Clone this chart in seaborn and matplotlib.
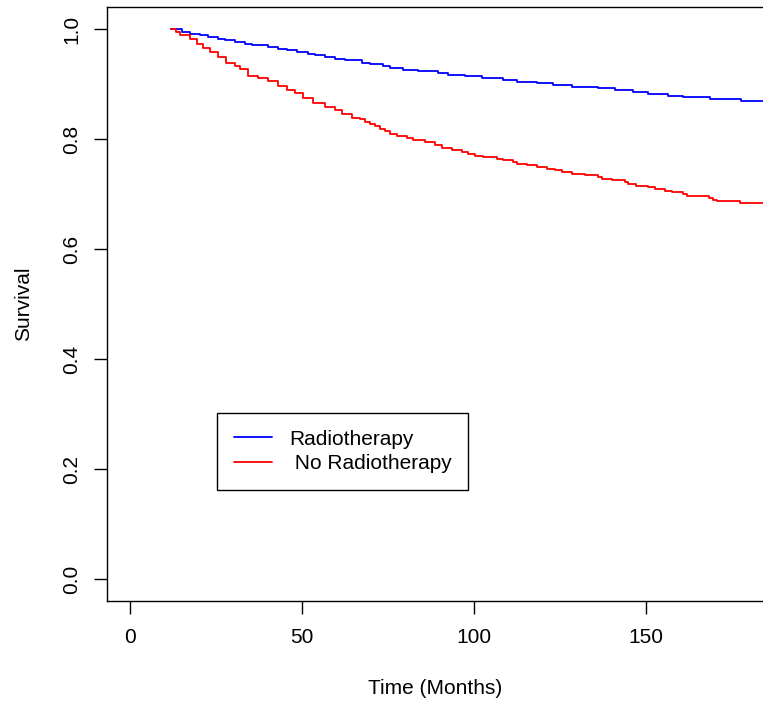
import seaborn as sns
import pandas as pd
import matplotlib
matplotlib.use("Agg")
import matplotlib.pyplot as plt

# Kaplan-Meier style step curves
radio_time = [12.0, 15.1, 17.4, 20.3, 22.7, 25.6, 27.6, 30.5, 33.4, 35.5, 40.1,
              43.0, 45.6, 48.5, 51.7, 53.8, 56.7, 59.6, 62.5, 67.4, 69.8, 73.5,
              75.6, 79.4, 83.7, 89.5, 92.4, 97.4, 102.3, 108.4, 112.5, 118.3,
              123.0, 128.5, 136.0, 141.0, 146.2, 150.6, 156.4, 160.8, 168.6,
              177.6, 190.0]
radio_surv = [1.000, 0.995, 0.991, 0.989, 0.985, 0.982, 0.980, 0.976, 0.973,
              0.971, 0.967, 0.964, 0.962, 0.958, 0.955, 0.953, 0.949, 0.946,
              0.943, 0.939, 0.936, 0.933, 0.930, 0.926, 0.923, 0.920, 0.917,
              0.914, 0.911, 0.907, 0.904, 0.901, 0.898, 0.895, 0.892, 0.889,
              0.885, 0.882, 0.879, 0.876, 0.873, 0.870, 0.870]

noradio_time = [12.0, 13.4, 14.5, 17.4, 19.5, 21.2, 23.3, 25.6, 27.9, 30.5, 32.0,
                34.3, 37.2, 40.1, 43.0, 45.6, 48.0, 50.3, 53.2, 56.7, 59.6, 61.6,
                64.5, 66.9, 68.3, 69.8, 71.2, 72.7, 74.1, 75.6, 77.6, 80.5, 82.3,
                85.8, 88.7, 90.7, 93.6, 96.5, 98.3, 100.3, 102.6, 106.7, 108.4,
                111.3, 112.5, 115.4, 118.3, 121.2, 123.5, 125.6, 128.5, 132.3,
                136.0, 137.2, 140.1, 143.9, 144.8, 147.1, 150.6, 152.6, 155.5,
                157.6, 160.8, 161.9, 168.3, 169.5, 170.6, 177.3, 190.0]
noradio_surv = [1.000, 0.995, 0.989, 0.982, 0.973, 0.966, 0.959, 0.949, 0.939,
                0.933, 0.927, 0.915, 0.911, 0.905, 0.896, 0.890, 0.884, 0.875,
                0.866, 0.858, 0.852, 0.845, 0.839, 0.836, 0.831, 0.827, 0.824,
                0.819, 0.815, 0.810, 0.805, 0.801, 0.798, 0.795, 0.789, 0.783,
                0.780, 0.776, 0.773, 0.770, 0.767, 0.764, 0.761, 0.758, 0.755,
                0.752, 0.749, 0.746, 0.743, 0.740, 0.737, 0.734, 0.731, 0.728,
                0.725, 0.722, 0.719, 0.715, 0.712, 0.709, 0.706, 0.703, 0.700,
                0.696, 0.693, 0.690, 0.687, 0.684, 0.684]

groups = ["Radiotherapy", " No Radiotherapy"]
colors = ["#0000ff", "#ff0000"]

df = pd.concat([
    pd.DataFrame({"time": radio_time, "surv": radio_surv, "group": groups[0]}),
    pd.DataFrame({"time": noradio_time, "surv": noradio_surv, "group": groups[1]}),
])

sns.set_style("ticks")
plt.rcParams["font.family"] = ["Liberation Sans", "DejaVu Sans"]
plt.rcParams["font.size"] = 15
for key in ["text.color", "axes.labelcolor", "xtick.color", "ytick.color"]:
    plt.rcParams[key] = "black"

fig = plt.figure(figsize=(7.63, 7.04), dpi=100)
ax = fig.add_axes([107 / 763, 103 / 704, 656 / 763, 594 / 704])

sns.lineplot(data=df, x="time", y="surv", hue="group", hue_order=groups,
             palette=colors, drawstyle="steps-post", linewidth=1.3,
             estimator=None, ax=ax)

ax.set_xlim(-6.686, 184.0)
ax.set_ylim(-0.04, 1.04)
ax.set_xticks([0, 50, 100, 150])
ax.set_yticks([0.0, 0.2, 0.4, 0.6, 0.8, 1.0])
ax.set_yticklabels(["0.0", "0.2", "0.4", "0.6", "0.8", "1.0"],
                   rotation=90, va="center")
ax.tick_params(axis="both", length=9.5, width=1.0, color="black",
               labelsize=15, pad=9, direction="out")
ax.tick_params(axis="x", pad=10)

for side in ["left", "bottom", "top"]:
    ax.spines[side].set_visible(True)
    ax.spines[side].set_color("black")
    ax.spines[side].set_linewidth(1.0)
ax.spines["right"].set_visible(False)

ax.set_xlabel("Time (Months)", fontsize=15, labelpad=23)
ax.set_ylabel("Survival", fontsize=15, labelpad=21)

leg = ax.legend(loc="upper left", bbox_to_anchor=(110 / 656, 188 / 594),
                borderaxespad=0, fancybox=False, frameon=True,
                edgecolor="black", handlelength=1.85, handletextpad=0.8,
                labelspacing=0.25, borderpad=0.8, fontsize=15)
leg.get_frame().set_linewidth(1.0)
leg.get_frame().set_alpha(1)
for line in leg.get_lines():
    line.set_linewidth(1.3)

fig.savefig("out.png", dpi=100)
